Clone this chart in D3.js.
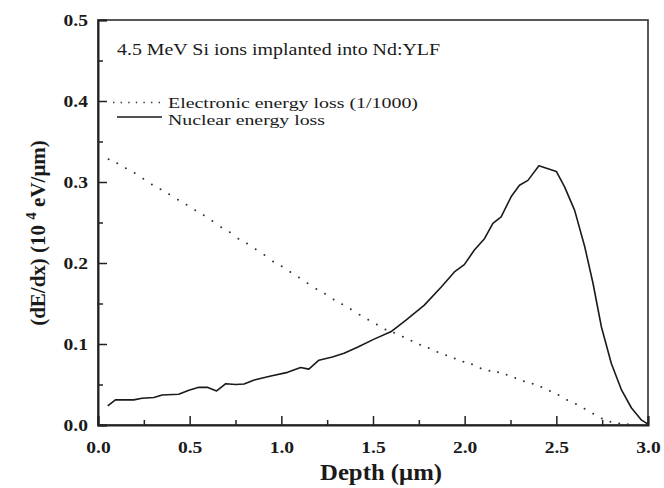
<!DOCTYPE html>
<html><head><meta charset="utf-8">
<script src="https://cdn.jsdelivr.net/npm/d3@7"></script>
<style>
html,body{margin:0;padding:0;background:#fff;}
svg{display:block;}
text{font-family:"Liberation Serif","Tinos","Times New Roman","Nimbus Roman",Times,serif;fill:#1a1a1a;}
</style></head>
<body>
<script>
// ---- data ----
const nuclearDepth = [0.053,0.095,0.195,0.24,0.305,0.35,0.44,0.496,0.55,0.596,0.647,0.697,0.751,0.797,0.852,0.943,1.034,1.105,1.15,1.205,1.278,1.342,1.415,1.506,1.597,1.68,1.78,1.871,1.944,1.998,2.053,2.108,2.154,2.199,2.254,2.299,2.345,2.405,2.50,2.545,2.60,2.655,2.70,2.746,2.80,2.856,2.91,2.965,3.0];
const nuclearLoss = [0.0235,0.031,0.031,0.033,0.034,0.037,0.038,0.043,0.0465,0.0465,0.042,0.051,0.050,0.0506,0.0556,0.0605,0.065,0.071,0.069,0.080,0.084,0.0885,0.096,0.106,0.115,0.1296,0.148,0.170,0.189,0.198,0.216,0.230,0.249,0.257,0.282,0.296,0.302,0.320,0.313,0.294,0.265,0.220,0.175,0.121,0.076,0.043,0.021,0.006,0.001];

const electronicDepth = [0.058,0.105,0.152,0.200,0.247,0.294,0.341,0.388,0.436,0.483,0.530,0.577,0.624,0.672,0.719,0.766,0.813,0.860,0.908,0.955,1.002,1.049,1.096,1.143,1.191,1.238,1.285,1.332,1.379,1.427,1.474,1.521,1.568,1.615,1.663,1.710,1.757,1.804,1.851,1.899,1.946,1.993,2.040,2.087,2.135,2.182,2.229,2.276,2.323,2.371,2.418,2.465,2.512,2.559,2.607,2.654,2.701,2.748,2.795,2.843,2.890,2.937];
const electronicLoss = [0.328,0.323,0.317,0.311,0.304,0.297,0.291,0.285,0.278,0.272,0.265,0.259,0.252,0.244,0.238,0.230,0.224,0.217,0.210,0.202,0.196,0.189,0.182,0.175,0.168,0.162,0.155,0.149,0.143,0.136,0.130,0.124,0.118,0.114,0.109,0.104,0.099,0.095,0.090,0.086,0.082,0.078,0.075,0.070,0.067,0.065,0.062,0.058,0.054,0.051,0.047,0.042,0.037,0.031,0.026,0.020,0.014,0.008,0.004,0.002,0.001,0.000];

const xTicks = [0.0,0.5,1.0,1.5,2.0,2.5,3.0];
const xMinorTicks = [0.25,0.75,1.25,1.75,2.25,2.75];
const yTicks = [0.0,0.1,0.2,0.3,0.4,0.5];
const yMinorTicks = [0.05,0.15,0.25,0.35,0.45];

const titleText = "4.5 MeV Si ions implanted into Nd:YLF";
const legendLabels = ["Electronic energy loss (1/1000)","Nuclear energy loss"];
const xLabel = "Depth (\u03bcm)";

// ---- drawing ----
const FONT = '"Liberation Serif","Tinos","Times New Roman","Nimbus Roman",Times,serif';
const W = 664, H = 488;
const svg = d3.select("body").append("svg").attr("width",W).attr("height",H);
svg.append("rect").attr("width",W).attr("height",H).attr("fill","#fff");

const x = d3.scaleLinear().domain([0,3]).range([98,648]);
const y = d3.scaleLinear().domain([0,0.5]).range([425,20]);
const SX = 1.15;

// frame
svg.append("rect").attr("x",x(0)).attr("y",y(0.5)).attr("width",x(3)-x(0)).attr("height",y(0)-y(0.5))
  .attr("fill","none").attr("stroke","#222").attr("stroke-width",1.5);

// minor ticks
svg.append("g").attr("transform",`translate(0,${y(0)})`)
  .call(d3.axisBottom(x).tickValues(xMinorTicks).tickSize(-5).tickFormat(""))
  .call(g=>{g.select(".domain").remove(); g.selectAll("line").attr("stroke","#222").attr("stroke-width",1.5);});
svg.append("g").attr("transform",`translate(${x(0)},0)`)
  .call(d3.axisLeft(y).tickValues(yMinorTicks).tickSize(-5).tickFormat(""))
  .call(g=>{g.select(".domain").remove(); g.selectAll("line").attr("stroke","#222").attr("stroke-width",1.5);});

// major axes
const xAxis = svg.append("g").attr("transform",`translate(0,${y(0)})`)
  .call(d3.axisBottom(x).tickValues(xTicks).tickSize(-9).tickPadding(16).tickFormat(d3.format(".1f")));
xAxis.select(".domain").attr("stroke","#222").attr("stroke-width",2);
xAxis.selectAll("line").attr("stroke","#222").attr("stroke-width",1.5);
xAxis.selectAll("text").attr("font-size",17).attr("font-weight","bold")
  .attr("font-family",FONT).attr("fill","#1a1a1a")
  .attr("transform",`scale(${SX},1)`);

const yAxis = svg.append("g").attr("transform",`translate(${x(0)},0)`)
  .call(d3.axisLeft(y).tickValues(yTicks).tickSize(-9).tickPadding(10).tickFormat(d3.format(".1f")));
yAxis.select(".domain").attr("stroke","#222").attr("stroke-width",2);
yAxis.selectAll("line").attr("stroke","#222").attr("stroke-width",1.5);
yAxis.selectAll("text").attr("font-size",17).attr("font-weight","bold")
  .attr("font-family",FONT).attr("fill","#1a1a1a")
  .attr("transform",`scale(${SX},1)`).attr("x",-10/SX);

// electronic (dotted points)
svg.append("g").selectAll("circle").data(electronicDepth).join("circle")
  .attr("cx",(d)=>x(d)).attr("cy",(d,i)=>y(electronicLoss[i])).attr("r",1)
  .attr("fill","#333");

// nuclear line
const line = d3.line().x(d=>x(d[0])).y(d=>y(d[1]));
svg.append("path").datum(nuclearDepth.map((d,i)=>[d,nuclearLoss[i]]))
  .attr("d",line).attr("fill","none").attr("stroke","#1a1a1a").attr("stroke-width",1.6)
  .attr("stroke-linejoin","round");

// title
svg.append("text").attr("x",117).attr("y",55).attr("font-size",16.5)
  .attr("textLength",323).attr("lengthAdjust","spacingAndGlyphs").text(titleText);

// legend
svg.append("line").attr("x1",113).attr("x2",163).attr("y1",102.5).attr("y2",102.5)
  .attr("stroke","#333").attr("stroke-width",1.6).attr("stroke-dasharray","1.4,6.2");
svg.append("text").attr("x",168).attr("y",107.5).attr("font-size",15)
  .attr("textLength",250).attr("lengthAdjust","spacingAndGlyphs").text(legendLabels[0]);
svg.append("line").attr("x1",117).attr("x2",162).attr("y1",117).attr("y2",117)
  .attr("stroke","#1a1a1a").attr("stroke-width",1.6);
svg.append("text").attr("x",168).attr("y",125).attr("font-size",15)
  .attr("textLength",157).attr("lengthAdjust","spacingAndGlyphs").text(legendLabels[1]);

// x label
svg.append("text").attr("x",381).attr("y",480).attr("text-anchor","middle")
  .attr("font-size",23).attr("font-weight","bold")
  .attr("textLength",122).attr("lengthAdjust","spacingAndGlyphs").text(xLabel);

// y label
const yl = svg.append("text").attr("transform","translate(45,233) rotate(-90)")
  .attr("text-anchor","middle").attr("font-size",21).attr("font-weight","bold");
yl.append("tspan").text("(dE/dx) (10 ");
yl.append("tspan").attr("dy",-9).attr("font-size",15).text("4");
yl.append("tspan").attr("dy",9).text(" eV/\u03bcm)");
</script>
</body></html>
